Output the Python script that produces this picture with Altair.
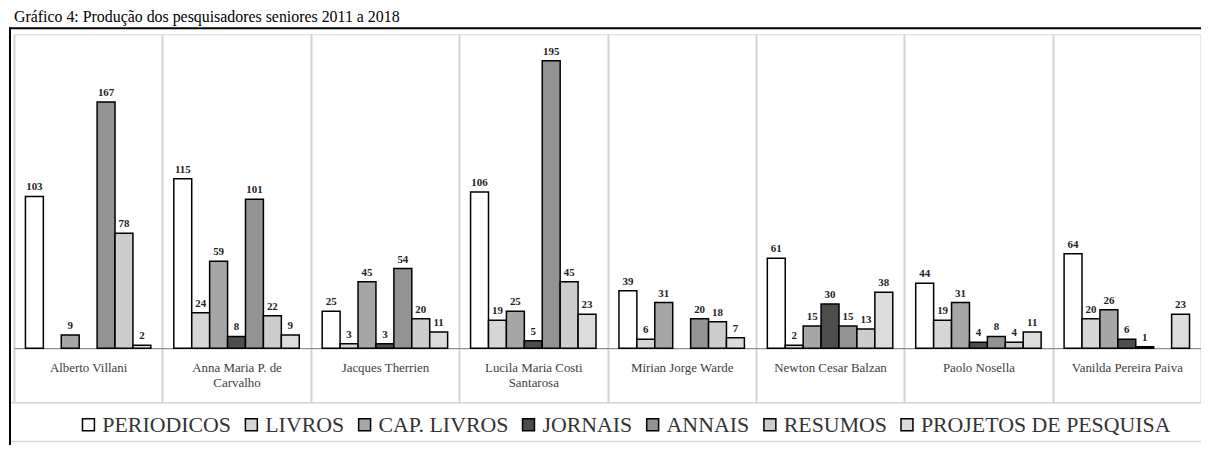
import json
import altair as alt
import pandas as pd

# ---------------- data ----------------
researchers = [
    "Alberto Villani",
    "Anna Maria P. de Carvalho",
    "Jacques Therrien",
    "Lucila Maria Costi Santarosa",
    "Mirian Jorge Warde",
    "Newton Cesar Balzan",
    "Paolo Nosella",
    "Vanilda Pereira Paiva",
]
label_lines = [
    ["Alberto Villani"],
    ["Anna Maria P. de", "Carvalho"],
    ["Jacques Therrien"],
    ["Lucila Maria Costi", "Santarosa"],
    ["Mirian Jorge Warde"],
    ["Newton Cesar Balzan"],
    ["Paolo Nosella"],
    ["Vanilda Pereira Paiva"],
]
series = ["PERIODICOS", "LIVROS", "CAP. LIVROS", "JORNAIS", "ANNAIS", "RESUMOS",
          "PROJETOS DE PESQUISA"]

periodicos = [103, 115, 25, 106, 39, 61, 44, 64]
livros = [0, 24, 3, 19, 6, 2, 19, 20]
cap_livros = [9, 59, 45, 25, 31, 15, 31, 26]
jornais = [0, 8, 3, 5, 0, 30, 4, 6]
annais = [167, 101, 54, 195, 20, 15, 8, 1]
resumos = [78, 22, 20, 45, 18, 13, 4, 0]
projetos = [2, 9, 11, 23, 7, 38, 11, 23]

fills = ["#ffffff", "#d6d6d6", "#a6a6a6", "#4d4d4d", "#939393", "#cdcdcd", "#dcdcdc"]

title_text = "Gráfico 4: Produção dos pesquisadores seniores 2011 a 2018"

rows = []
for s, vals in zip(series, [periodicos, livros, cap_livros, jornais, annais, resumos, projetos]):
    for r, v in zip(researchers, vals):
        rows.append({"researcher": r, "series": s, "value": v})
df = pd.DataFrame(rows)

# multi-line axis labels
label_expr = "datum.label"
for name, lines in reversed(list(zip(researchers, label_lines))):
    label_expr = f"datum.label == {json.dumps(name)} ? {json.dumps(lines)} : " + label_expr

FONT = "Liberation Serif"
W, H = 1195, 316
TICK = 55

x_enc = alt.X(
    "researcher:N",
    sort=researchers,
    scale=alt.Scale(paddingInner=0, paddingOuter=0),
    axis=alt.Axis(
        title=None, tickBand="extent", grid=True, gridColor="#d3d3d3", gridWidth=2,
        ticks=True, tickSize=TICK, tickColor="#d3d3d3", tickWidth=2,
        domainColor="#7f7f7f", domainWidth=1,
        labelFont=FONT, labelFontSize=13, labelColor="#404040",
        labelPadding=-42, labelBaseline="top", labelLineHeight=16,
        labelAngle=0, labelLimit=200, labelExpr=label_expr,
    ),
)
xo_enc = alt.XOffset("series:N", sort=series,
                     scale=alt.Scale(paddingInner=0, paddingOuter=0.64))
y_enc = alt.Y("value:Q", scale=alt.Scale(domain=[0, 213], nice=False), axis=None)

base = alt.Chart(df).transform_filter("datum.value > 0")

bars = base.mark_bar(stroke="black", strokeWidth=1.5).encode(
    x=x_enc,
    xOffset=xo_enc,
    y=y_enc,
    fill=alt.Fill(
        "series:N", sort=series,
        scale=alt.Scale(domain=series, range=fills),
        legend=alt.Legend(
            title=None, orient="none", legendX=64, legendY=382, direction="horizontal",
            columns=7, labelFont=FONT, labelFontSize=22, labelColor="#333333",
            symbolType="square", symbolSize=144, symbolStrokeColor="black",
            symbolStrokeWidth=1.5, columnPadding=9, labelOffset=3, labelLimit=400,
            padding=0,
        ),
    ),
)

labels = base.mark_text(font=FONT, fontWeight="bold", fontSize=11, color="#222222",
                        baseline="bottom", dy=-4).encode(
    x=x_enc, xOffset=xo_enc, y=y_enc, text="value:Q"
)

one = alt.Data(values=[{}])
frame_top = alt.Chart(one).mark_rule(color="black", strokeWidth=2).encode(
    x=alt.value(-5), x2=alt.value(1300), y=alt.value(-6))
frame_left = alt.Chart(one).mark_rule(color="black", strokeWidth=2).encode(
    x=alt.value(-4), y=alt.value(-7), y2=alt.value(430))
sep_line = alt.Chart(one).mark_rule(color="#d3d3d3", strokeWidth=1.5).encode(
    x=alt.value(-3), x2=alt.value(1300), y=alt.value(H + TICK))
bottom_line = alt.Chart(one).mark_rule(color="#d9d9d9", strokeWidth=1.5).encode(
    x=alt.value(-3), x2=alt.value(1300), y=alt.value(410))

chart = alt.layer(frame_top, frame_left, sep_line, bottom_line, bars, labels).properties(
    width=W, height=H,
    title=alt.TitleParams(text=title_text, anchor="start", font=FONT, fontSize=16,
                          fontWeight="normal", color="black", offset=1, dx=6),
    autosize=alt.AutoSizeParams(type="none"),
    padding={"left": 6, "top": 25, "right": 0, "bottom": 96},
).configure_view(stroke="#d9d9d9", strokeWidth=1)

chart.save("out.html", embed_options={"renderer": "svg", "actions": False})
